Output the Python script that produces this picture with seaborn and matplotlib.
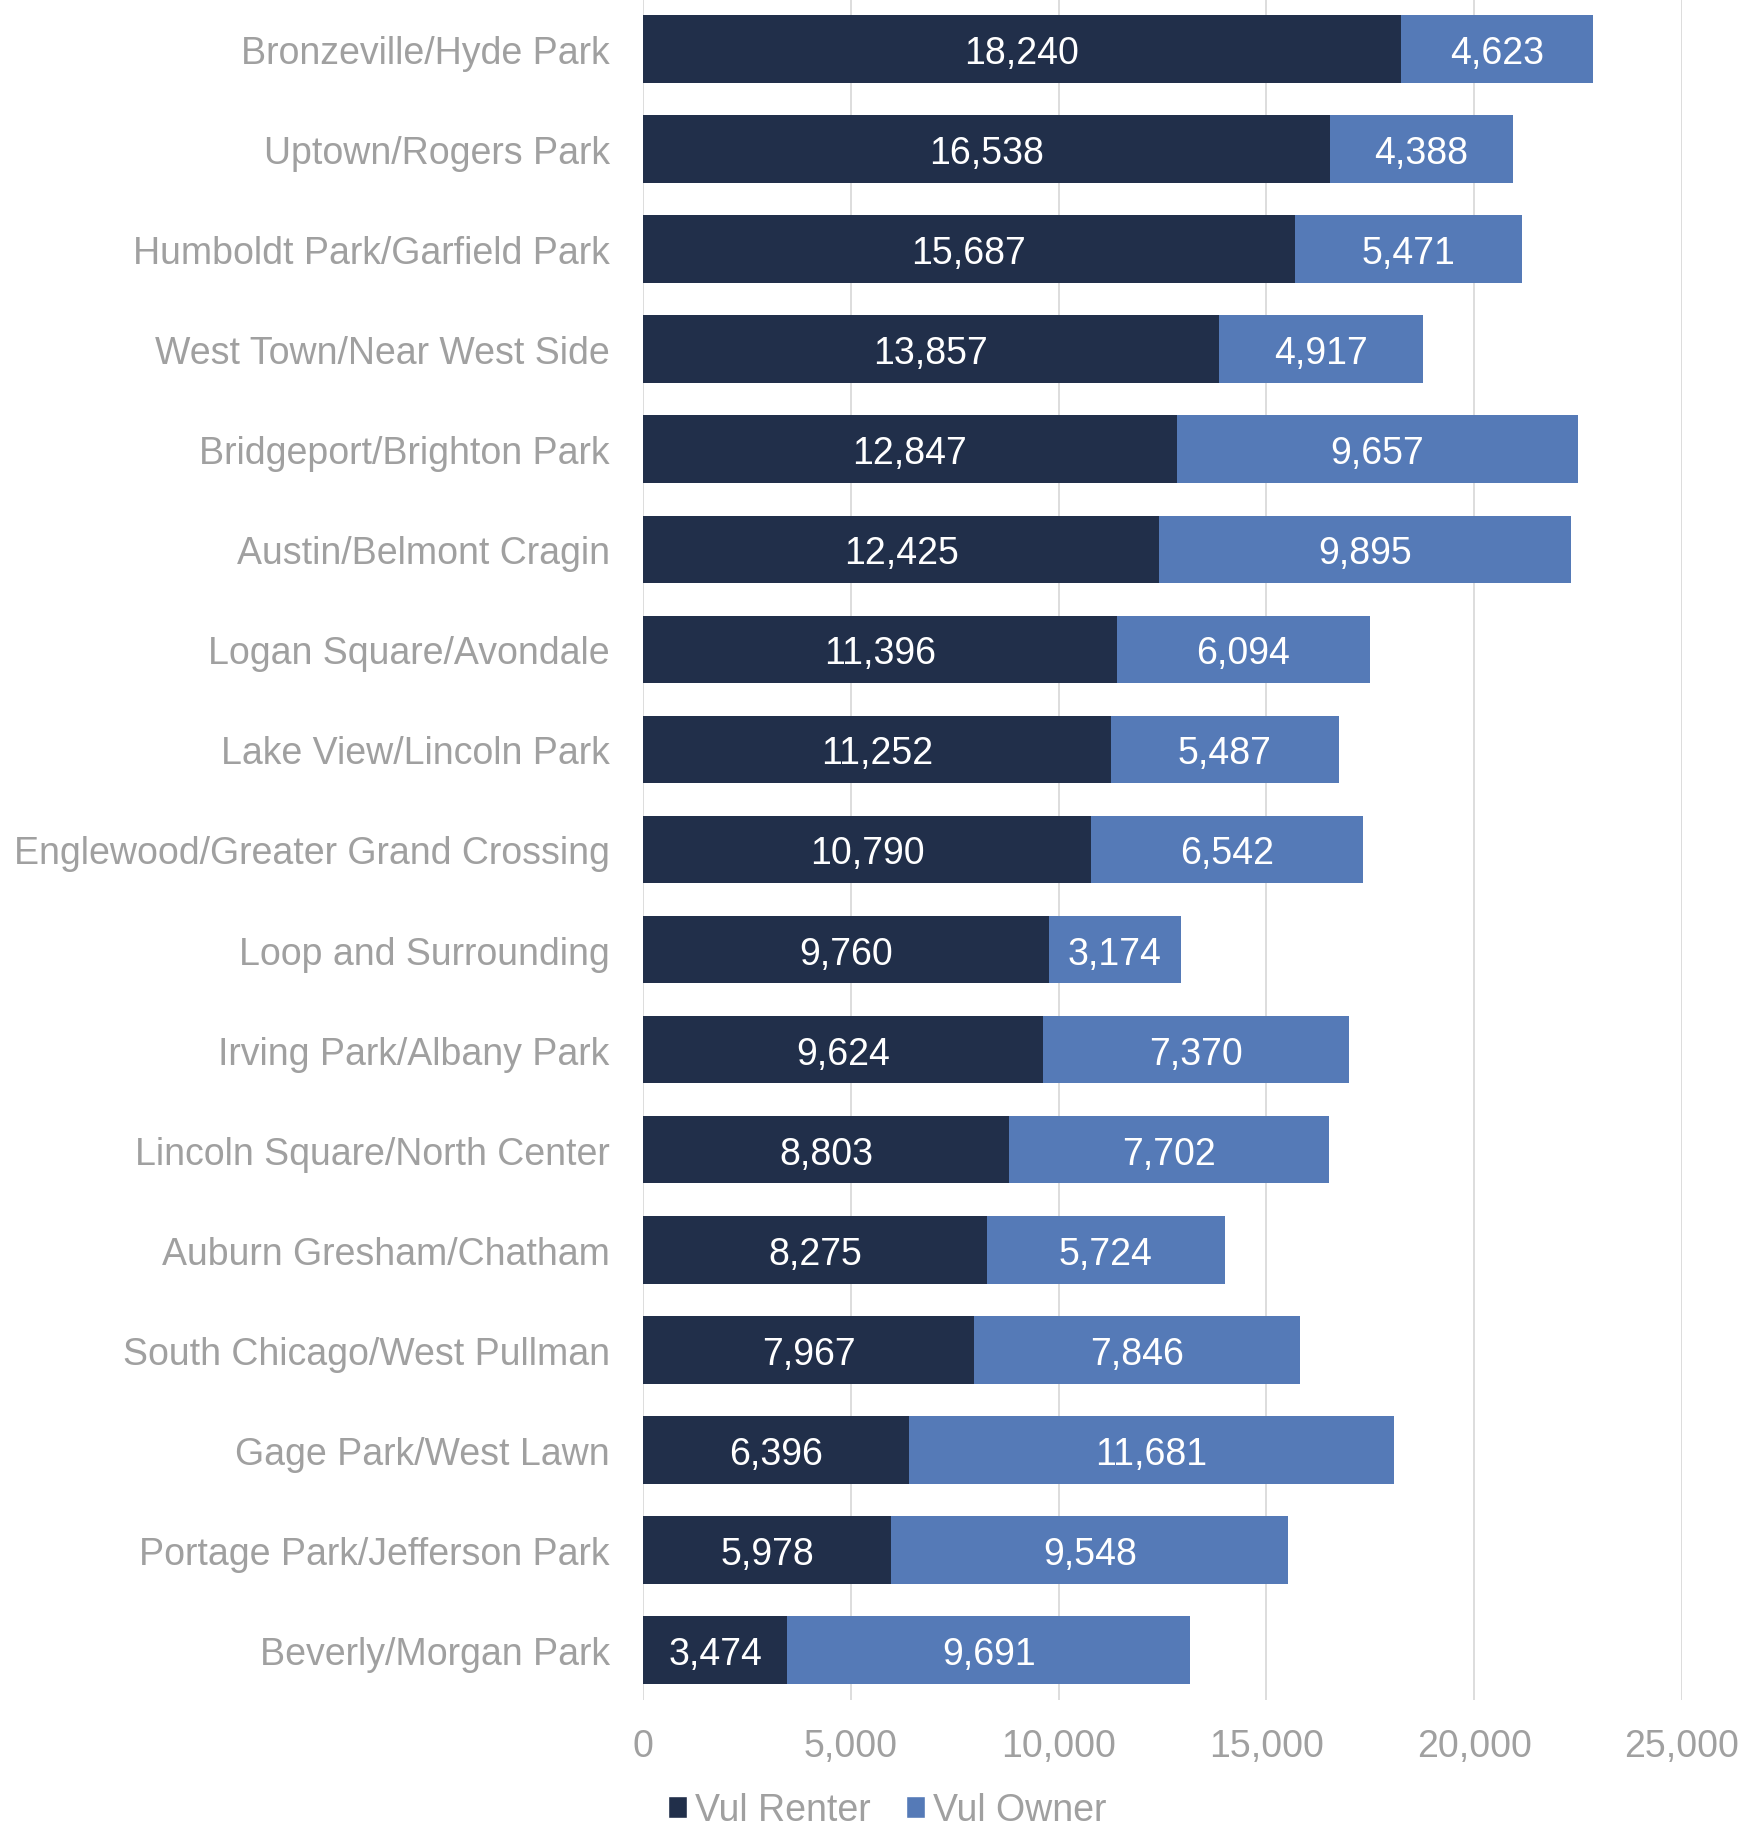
import matplotlib
matplotlib.use("Agg")
import matplotlib.pyplot as plt
from matplotlib.patches import Patch
from matplotlib.ticker import FuncFormatter
import pandas as pd
import seaborn as sns

areas = [
    "Bronzeville/Hyde Park",
    "Uptown/Rogers Park",
    "Humboldt Park/Garfield Park",
    "West Town/Near West Side",
    "Bridgeport/Brighton Park",
    "Austin/Belmont Cragin",
    "Logan Square/Avondale",
    "Lake View/Lincoln Park",
    "Englewood/Greater Grand Crossing",
    "Loop and Surrounding",
    "Irving Park/Albany Park",
    "Lincoln Square/North Center",
    "Auburn Gresham/Chatham",
    "South Chicago/West Pullman",
    "Gage Park/West Lawn",
    "Portage Park/Jefferson Park",
    "Beverly/Morgan Park",
]
vul_renter = [18240, 16538, 15687, 13857, 12847, 12425, 11396, 11252, 10790,
              9760, 9624, 8803, 8275, 7967, 6396, 5978, 3474]
vul_owner = [4623, 4388, 5471, 4917, 9657, 9895, 6094, 5487, 6542,
             3174, 7370, 7702, 5724, 7846, 11681, 9548, 9691]
x_ticks = [0, 5000, 10000, 15000, 20000, 25000]

RENTER_COLOR = "#212F4A"
OWNER_COLOR = "#557AB7"
TEXT_GRAY = "#A0A0A0"
FONT = ["Liberation Sans", "DejaVu Sans"]
FS = 27

sns.set_theme(style="white")
plt.rcParams["font.family"] = FONT

df = pd.DataFrame({"area": areas, "renter": vul_renter, "owner": vul_owner})
df["total"] = df["renter"] + df["owner"]

W, H = 1750, 1824
fig = plt.figure(figsize=(W / 100, H / 100), dpi=100)
ax = fig.add_axes([643 / W, 1 - 1701 / H, (1682 - 643) / W, 1701 / H])

# stacked bars: full total in the owner colour, renter part drawn over it
sns.barplot(data=df, x="total", y="area", color=OWNER_COLOR, width=0.675,
            saturation=1, orient="h", ax=ax, zorder=2, linewidth=0)
sns.barplot(data=df, x="renter", y="area", color=RENTER_COLOR, width=0.675,
            saturation=1, orient="h", ax=ax, zorder=3, linewidth=0)

for i, (r, o) in enumerate(zip(vul_renter, vul_owner)):
    ax.text(r / 2, i, f"{r:,}", ha="center", va="center_baseline",
            color="white", fontsize=FS, zorder=4)
    ax.text(r + o / 2, i, f"{o:,}", ha="center", va="center_baseline",
            color="white", fontsize=FS, zorder=4)

ax.set_xlim(0, 25000)
ax.set_xticks(x_ticks)
ax.xaxis.set_major_formatter(FuncFormatter(lambda v, p: f"{int(v):,}"))
ax.xaxis.grid(True, color="#DDDDDD", linewidth=1.4, zorder=0)
ax.yaxis.grid(False)
ax.set_axisbelow(True)
for s in ax.spines.values():
    s.set_visible(False)
ax.set_xlabel("")
ax.set_ylabel("")
ax.tick_params(axis="x", length=0, pad=20, labelsize=FS, labelcolor=TEXT_GRAY)
ax.tick_params(axis="y", length=0, pad=24, labelsize=FS, labelcolor=TEXT_GRAY)

handles = [Patch(facecolor=RENTER_COLOR, label="Vul Renter"),
           Patch(facecolor=OWNER_COLOR, label="Vul Owner")]
leg = fig.legend(handles=handles, loc="center", bbox_to_anchor=(0.507, 0.007),
                 ncol=2, frameon=False, fontsize=FS, handlelength=0.5,
                 handleheight=0.5, handletextpad=0.22, columnspacing=0.95,
                 borderaxespad=0, borderpad=0)
for t in leg.get_texts():
    t.set_color(TEXT_GRAY)

fig.savefig("out.png", dpi=100)
